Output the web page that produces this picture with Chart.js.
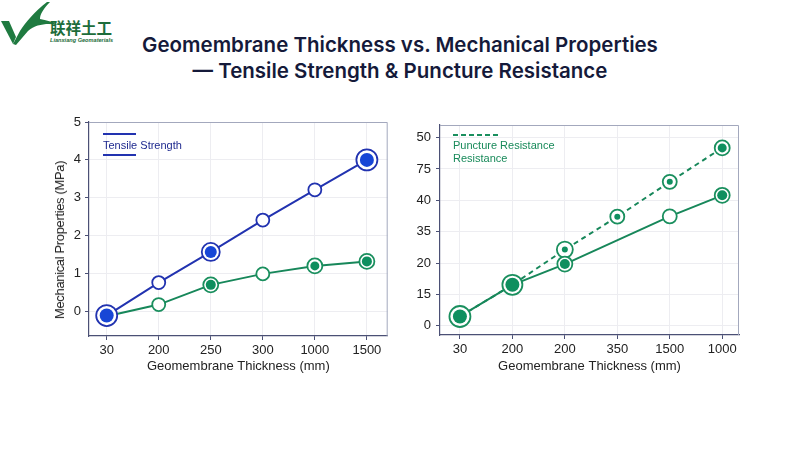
<!DOCTYPE html>
<html>
<head>
<meta charset="utf-8">
<script src="https://cdn.jsdelivr.net/npm/chart.js@4.4.1/dist/chart.umd.min.js"></script>
<style>
  html, body { margin: 0; padding: 0; background: #ffffff; }
  #page { position: relative; width: 800px; height: 450px; overflow: hidden; background: #ffffff; font-family: "Liberation Sans", Arial, sans-serif; }
  .abs { position: absolute; }
  #title { left: 0; width: 800px; top: 32px; text-align: center; font-family: Inter, sans-serif; font-size: 20.5px; font-weight: 600; color: #151a3a; line-height: 26px; }
  canvas { position: absolute; }
  .leg { font-size: 11px; line-height: 12.5px; white-space: nowrap; }
  #ytitle { left: 60px; top: 240px; font-size: 13px; letter-spacing: -0.35px; color: #222; white-space: nowrap; transform: translate(-50%, -50%) rotate(-90deg); line-height: 16px; }
</style>
</head>
<body>
<div id="page">
  <svg class="abs" style="left:0;top:0" width="125" height="48" viewBox="0 0 125 48">
    <path d="M1 21 L9 21 L16 37 L13 44 Z" fill="#1f7a40"/>
    <path d="M13 44 L20 31 C26 22 34 12 47 2 L50 2 C44 8 40 14 40 19 C46 20 53 22 58 25 C48 23 36 24 28 31 L16 45 Z" fill="#1f7a40"/>
    <text x="50" y="34" font-family="'Noto Sans CJK SC', sans-serif" font-weight="700" font-size="15.5" fill="#1d6d3b">联祥土工</text>
    <text x="50" y="42" font-family="'Liberation Sans', sans-serif" font-weight="700" font-style="italic" font-size="5.6" fill="#1d6d3b">Lianxiang Geomaterials</text>
  </svg>
  <div id="title" class="abs">Geomembrane Thickness vs. Mechanical Properties<br>— Tensile Strength &amp; Puncture Resistance</div>

  <canvas id="left" width="400" height="280" style="left:0;top:100px;width:400px;height:280px"></canvas>
  <canvas id="right" width="400" height="280" style="left:400px;top:100px;width:400px;height:280px"></canvas>

  <div id="ytitle" class="abs">Mechanical Properties (MPa)</div>

  <div class="abs" style="left:103px;top:133px;width:33px;height:2px;background:#2233b0"></div>
  <div class="abs leg" style="left:103px;top:139px;color:#1f2a8f">Tensile Strength</div>
  <div class="abs" style="left:103px;top:154px;width:33px;height:2px;background:#2233b0"></div>

  <svg class="abs" style="left:453px;top:133px" width="50" height="4"><line x1="0" y1="2" x2="48" y2="2" stroke="#1a8f5e" stroke-width="2" stroke-dasharray="5 3"/></svg>
  <div class="abs leg" style="left:453px;top:139px;color:#188a5a">Puncture Resistance<br>Resistance</div>
</div>

<script>
// ---------- data ----------
const leftXLabels = ['30', '200', '250', '300', '1000', '1500'];
const tensileStrength = [-0.11, 0.76, 1.57, 2.41, 3.21, 4.00];
const leftSecondSeries = [-0.13, 0.18, 0.70, 0.99, 1.20, 1.32];
const leftYTicks = ['0', '1', '2', '3', '4', '5'];

const rightXLabels = ['30', '200', '200', '350', '1500', '1000'];
const punctureResistance = [0.30, 1.31, 2.43, 3.48, 4.59, 5.67];
const rightSolidSeries = [0.30, 1.31, 1.97, null, 3.49, 4.16];
const rightYTicks = ['0', '15', '20', '35', '40', '75', '50'];

// ---------- styles ----------
const BLUE_LINE = '#2233b0', BLUE_DOT = '#1746d6';
const GREEN_LINE = '#17875a', GREEN_DOT = '#0f8f5f', GREEN_RING = '#1a8f5e';
const AXIS = '#4b5075', GRID = '#ededf1', FRAME = '#a3a8bd';
const FONT = "'Liberation Sans', Arial, sans-serif";

const frame = {
  id: 'frame',
  beforeDatasetsDraw(chart) {
    const {ctx, chartArea: a} = chart;
    ctx.save();
    ctx.strokeStyle = FRAME; ctx.lineWidth = 1;
    ctx.beginPath();
    ctx.moveTo(a.left, a.top + 0.5); ctx.lineTo(a.right - 0.5, a.top + 0.5); ctx.lineTo(a.right - 0.5, a.bottom);
    ctx.stroke();
    ctx.restore();
  }
};

function idx(arr) { return arr.map((_, i) => i); }

function makeOptions(cfg) {
  return {
    responsive: false,
    animation: false,
    devicePixelRatio: 1,
    layout: { padding: cfg.padding },
    plugins: { legend: { display: false }, tooltip: { enabled: false } },
    scales: {
      x: {
        type: 'linear', min: cfg.xmin, max: cfg.xmax,
        afterBuildTicks: s => { s.ticks = cfg.xLabels.map((_, i) => ({ value: i })); },
        afterFit: s => { s.height = cfg.xh; },
        ticks: { callback: v => cfg.xLabels[v] ?? '', color: '#222', font: { family: FONT, size: 13 }, padding: 3, autoSkip: false, maxRotation: 0 },
        grid: { color: GRID, tickColor: AXIS, tickLength: 4 },
        border: { color: AXIS, width: 1.2 },
        title: { display: true, text: 'Geomembrane Thickness (mm)', color: '#222', font: { family: FONT, size: 13 }, padding: { top: 0, bottom: cfg.xtpad } }
      },
      y: {
        type: 'linear', min: cfg.ymin, max: cfg.ymax,
        afterBuildTicks: s => { s.ticks = cfg.yTicks.map((_, i) => ({ value: i })); },
        afterFit: s => { s.width = cfg.yw; },
        ticks: { callback: v => cfg.yTicks[v] ?? '', color: '#222', font: { family: FONT, size: 13 }, padding: cfg.ypad },
        grid: { color: GRID, tickColor: AXIS, tickLength: 4 },
        border: { color: AXIS, width: 1.2 },
        title: { display: false }
      }
    }
  };
}

function dots(data, radii, color, order) {
  return { data, showLine: false, pointRadius: radii, pointHoverRadius: radii, pointBackgroundColor: color, pointBorderWidth: 0, borderWidth: 0, order };
}
function line(label, data, radii, color, ringColor, order, dash) {
  return { label, data, borderColor: color, borderWidth: 2, borderDash: dash || [], pointRadius: radii, pointHoverRadius: radii,
    pointBackgroundColor: '#ffffff', pointBorderColor: ringColor, pointBorderWidth: 1.8, tension: 0, spanGaps: true, order };
}

new Chart(document.getElementById('left'), {
  type: 'line',
  data: {
    labels: idx(leftXLabels),
    datasets: [
      dots(tensileStrength, [7, 0, 6, 0, 0, 7], BLUE_DOT, 0),
      line('Tensile Strength', tensileStrength, [10.5, 6.5, 9, 6.5, 6.5, 10.5], BLUE_LINE, BLUE_LINE, 1),
      dots(leftSecondSeries, [0, 0, 5, 0, 4.5, 5], GREEN_DOT, 2),
      line('Series 2', leftSecondSeries, [0, 6.5, 7.5, 6.5, 7.5, 7.5], GREEN_LINE, GREEN_RING, 3)
    ]
  },
  options: makeOptions({ padding: { left: 52, top: 22, right: 11, bottom: 0 }, xmin: -0.34, xmax: 5.40, ymin: -0.65, ymax: 5,
    xLabels: leftXLabels, yTicks: leftYTicks, xh: 44, yw: 37, ypad: 4, xtpad: 6 }),
  plugins: [frame]
});

new Chart(document.getElementById('right'), {
  type: 'line',
  data: {
    labels: idx(rightXLabels),
    datasets: [
      dots(rightSolidSeries, [7, 7, 5, 0, 0, 5], GREEN_DOT, 0),
      line('Series 2', rightSolidSeries, [10.5, 10, 7.5, 0, 7, 7.5], GREEN_LINE, GREEN_RING, 1),
      dots(punctureResistance, [0, 0, 3, 3, 3, 4.5], GREEN_DOT, 2),
      line('Puncture Resistance', punctureResistance, [0, 0, 8, 7, 7, 7.5], GREEN_LINE, GREEN_RING, 3, [5, 4])
    ]
  },
  options: makeOptions({ padding: { left: 0, top: 25, right: 61, bottom: 0 }, xmin: -0.38, xmax: 5.32, ymin: -0.29, ymax: 6.4,
    xLabels: rightXLabels, yTicks: rightYTicks, xh: 45, yw: 40, ypad: 5, xtpad: 6 }),
  plugins: [frame]
});
</script>
</body>
</html>
